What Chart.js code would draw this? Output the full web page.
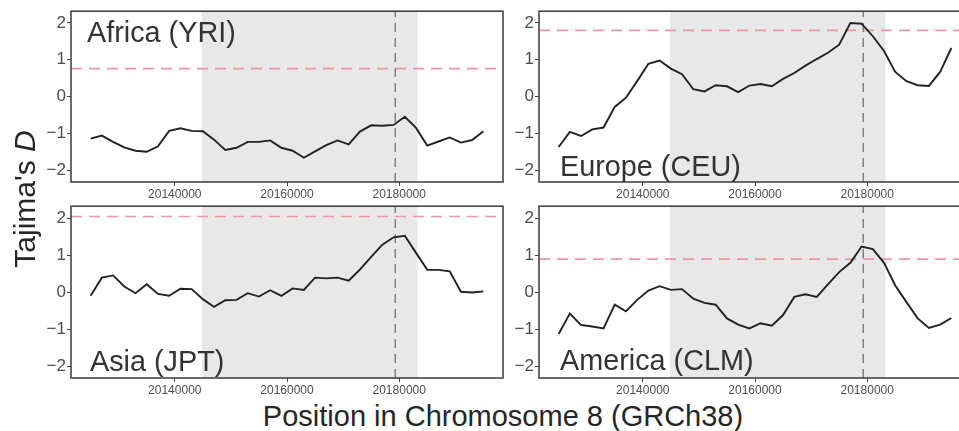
<!DOCTYPE html>
<html>
<head>
<meta charset="utf-8">
<script src="https://cdn.jsdelivr.net/npm/chart.js@4.4.1/dist/chart.umd.min.js"></script>
<style>
  html, body { margin: 0; padding: 0; background: #ffffff; }
  body { width: 959px; height: 431px; overflow: hidden; position: relative; font-family: "Liberation Sans", Arial, Helvetica, sans-serif; }
  .pan { position: absolute; }
  .pan canvas { display: block; }
  #xtitle { position: absolute; left: 0; width: 1006px; top: 402px; text-align: center; font-size: 29px; line-height: 29px; color: #262626; white-space: nowrap; }
  #ytitle { position: absolute; width: 300px; left: -125px; top: 183.5px; text-align: center; font-size: 30px; line-height: 30px; color: #262626; white-space: nowrap; transform: rotate(-90deg); transform-origin: 150px 15px; }
</style>
</head>
<body>
<div class="pan" style="left:0px;top:0px"><canvas id="c0" width="505" height="205"></canvas></div>
<div class="pan" style="left:480px;top:0px"><canvas id="c1" width="493" height="205"></canvas></div>
<div class="pan" style="left:0px;top:195px"><canvas id="c2" width="505" height="205"></canvas></div>
<div class="pan" style="left:480px;top:195px"><canvas id="c3" width="493" height="205"></canvas></div>
<div id="ytitle">Tajima's <i>D</i></div>
<div id="xtitle">Position in Chromosome 8 (GRCh38)</div>
<script>
// ---- data ----
const positions = [20125000, 20127000, 20129000, 20131000, 20133000, 20135000, 20137000, 20139000, 20141000, 20143000,
                   20145000, 20147000, 20149000, 20151000, 20153000, 20155000, 20157000, 20159000, 20161000, 20163000,
                   20165000, 20167000, 20169000, 20171000, 20173000, 20175000, 20177000, 20179000, 20181000, 20183000,
                   20185000, 20187000, 20189000, 20191000, 20193000, 20195000];

const africaD  = [-1.14, -1.06, -1.23, -1.38, -1.47, -1.50, -1.35, -0.93, -0.86, -0.93,
                  -0.94, -1.17, -1.45, -1.39, -1.23, -1.23, -1.19, -1.39, -1.47, -1.66,
                  -1.49, -1.32, -1.19, -1.30, -0.95, -0.78, -0.79, -0.77, -0.55, -0.85,
                  -1.33, -1.22, -1.11, -1.25, -1.18, -0.94];
const europeD  = [-1.37, -0.96, -1.07, -0.89, -0.84, -0.28, -0.03, 0.42, 0.89, 0.98,
                  0.76, 0.61, 0.20, 0.14, 0.31, 0.28, 0.12, 0.30, 0.34, 0.28,
                  0.48, 0.64, 0.84, 1.02, 1.19, 1.41, 2.00, 1.98, 1.64, 1.24,
                  0.67, 0.42, 0.31, 0.29, 0.67, 1.32];
const asiaD    = [-0.10, 0.39, 0.45, 0.15, -0.03, 0.21, -0.05, -0.10, 0.09, 0.08,
                  -0.19, -0.40, -0.22, -0.21, -0.03, -0.12, 0.05, -0.10, 0.10, 0.06,
                  0.39, 0.37, 0.39, 0.31, 0.61, 0.95, 1.28, 1.48, 1.52, 1.06,
                  0.60, 0.60, 0.56, 0.01, -0.01, 0.02];
const americaD  = [-1.13, -0.58, -0.89, -0.93, -0.98, -0.34, -0.52, -0.21, 0.04, 0.16,
                  0.06, 0.08, -0.18, -0.29, -0.34, -0.71, -0.88, -0.98, -0.84, -0.91,
                  -0.62, -0.13, -0.06, -0.13, 0.21, 0.54, 0.79, 1.23, 1.16, 0.79,
                  0.18, -0.27, -0.71, -0.97, -0.88, -0.70];

const panelNames = ["Africa (YRI)", "Europe (CEU)", "Asia (JPT)", "America (CLM)"];
const thresholds = [0.76, 1.80, 2.04, 0.89];
const shadeRange = [20144850, 20183300];
const markerPos = 20179300;
const xTickVals = [20140000, 20160000, 20180000];
const yTickVals = [-2, -1, 0, 1, 2];
const xRange = [20121500, 20198500];
const yRange = [-2.32, 2.32];

// ---- layout / style ----
const FONT = '"Liberation Sans", Arial, Helvetica, sans-serif';
const layouts = [
  { id: 'c0', yw: 71, xh: 23, top: 10, right: 2, labelDx: 16, labelY: 42 },
  { id: 'c1', yw: 59, xh: 23, top: 10, right: 2, labelDx: 21, labelY: 175.5 },
  { id: 'c2', yw: 71, xh: 22, top: 11, right: 2, labelDx: 19, labelY: 175.5 },
  { id: 'c3', yw: 59, xh: 22, top: 11, right: 2, labelDx: 21, labelY: 175 }
];
const series = [africaD, europeD, asiaD, americaD];

const panelPlugin = {
  id: 'panelDecor',
  afterDatasetsDraw(chart, args, opts) {
    const ctx = chart.ctx, a = chart.chartArea;
    ctx.save();
    ctx.fillStyle = '#333333';
    ctx.font = '28.8px ' + FONT;
    ctx.textBaseline = 'alphabetic';
    ctx.textAlign = 'left';
    ctx.fillText(opts.label, a.left + opts.dx, opts.y);
    ctx.strokeStyle = '#3a3a3a';
    ctx.lineWidth = 1.5;
    ctx.strokeRect(a.left, a.top, a.right - a.left, a.bottom - a.top);
    ctx.restore();
  }
};

function fmtY(v) { return v < 0 ? '\u2212' + Math.abs(v) : String(v); }

layouts.forEach((L, i) => {
  const vals = series[i];
  const pts = positions.map((x, k) => ({ x: x, y: vals[k] }));
  new Chart(document.getElementById(L.id), {
    type: 'line',
    data: {
      datasets: [
        { // shaded region
          data: [{ x: shadeRange[0], y: yRange[1] }, { x: shadeRange[1], y: yRange[1] }],
          borderWidth: 0, borderColor: 'rgba(0,0,0,0)', backgroundColor: '#e8e8e8',
          fill: 'start', pointRadius: 0, order: 10
        },
        { // threshold
          data: [{ x: xRange[0], y: thresholds[i] }, { x: xRange[1], y: thresholds[i] }],
          borderColor: '#ec97a7', borderWidth: 1.6, borderDash: [11, 7], pointRadius: 0, fill: false, order: 5
        },
        { // marker
          data: [{ x: markerPos, y: yRange[0] }, { x: markerPos, y: yRange[1] }],
          borderColor: '#7f7f7f', borderWidth: 1.5, borderDash: [9, 6], pointRadius: 0, fill: false, order: 4
        },
        { // Tajima's D
          data: pts,
          borderColor: '#222222', borderWidth: 1.9, pointRadius: 0, fill: false, tension: 0, order: 1
        }
      ]
    },
    options: {
      responsive: false, animation: false, devicePixelRatio: 1,
      layout: { padding: { top: L.top, right: L.right, left: 0, bottom: 0 } },
      plugins: {
        legend: { display: false }, tooltip: { enabled: false }, title: { display: false },
        panelDecor: { label: panelNames[i], dx: L.labelDx, y: L.labelY }
      },
      scales: {
        x: {
          type: 'linear', min: xRange[0], max: xRange[1],
          afterBuildTicks: s => { s.ticks = xTickVals.map(v => ({ value: v })); },
          afterFit: s => { s.height = L.xh; },
          grid: { display: true, drawOnChartArea: false, drawTicks: true, tickLength: 4, color: '#444444', lineWidth: 1 },
          border: { display: false },
          ticks: { color: '#4d4d4d', font: { family: FONT, size: 12 }, padding: 1, maxRotation: 0, autoSkip: false,
                   callback: v => String(v) }
        },
        y: {
          type: 'linear', min: yRange[0], max: yRange[1],
          afterBuildTicks: s => { s.ticks = yTickVals.map(v => ({ value: v })); },
          afterFit: s => { s.width = L.yw; },
          grid: { display: true, drawOnChartArea: false, drawTicks: true, tickLength: 4, color: '#444444', lineWidth: 1 },
          border: { display: false },
          ticks: { color: '#4d4d4d', font: { family: FONT, size: 17 }, padding: 1, callback: v => fmtY(v) }
        }
      }
    },
    plugins: [panelPlugin]
  });
});
</script>
</body>
</html>
